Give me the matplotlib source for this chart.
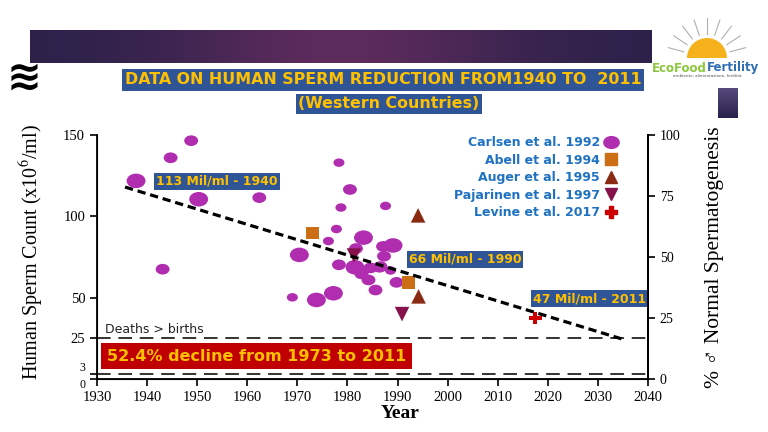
import numpy as np
import matplotlib.pyplot as plt
import matplotlib.transforms as mtransforms
from matplotlib.path import Path
from matplotlib.lines import Line2D
from matplotlib.patches import Wedge

plt.rcParams['mathtext.fontset'] = 'stix'

# --- data ---
carlsen_year = [1937.8, 1948.8, 1944.7, 1950.3, 1962.4, 1943.1, 1978.3, 1980.5,
                1978.7, 1987.6, 1977.8, 1976.2, 1983.2, 1981.7, 1989.1, 1987.1,
                1987.3, 1970.4, 1978.3, 1981.5, 1982.8, 1984.2, 1986.4, 1988.6,
                1989.8, 1985.6, 1977.2, 1973.8, 1969.0, 1984.6, 1986.6, 1982.8]
carlsen_count = [121.8, 146.5, 136.0, 110.5, 111.5, 67.5, 133.0, 116.5,
                 105.4, 106.4, 92.2, 84.8, 86.9, 80.2, 82.1, 81.5,
                 75.5, 76.3, 70.2, 68.7, 64.6, 60.9, 68.7, 66.7,
                 59.4, 54.7, 52.7, 48.6, 50.2, 68.3, 69.1, 65.6]
# relative study size (1 small .. 3 large)
carlsen_n = [3, 2, 2, 3, 2, 2, 1, 2,
             1, 1, 1, 1, 3, 2, 3, 2,
             2, 3, 2, 3, 2, 2, 2, 1,
             2, 2, 3, 3, 1, 2, 2, 2]

abell_year = [1973.0, 1992.2]
abell_count = [89.7, 59.4]
auger_year = [1994.1, 1994.2]
auger_count = [100.6, 50.8]
pajarinen_year = [1981.3, 1990.9]
pajarinen_count = [75.9, 39.9]
levine_year = [2017.5]
levine_count = [37.5]

trend_year = [1935.6, 2034.9]
trend_count = [118.0, 24.5]

left_ticks = [0, 3, 25, 50, 100, 150]
right_ticks = [0, 25, 50, 75, 100]
x_ticks = list(range(1930, 2041, 10))

purple = '#b02db0'
orange = '#cc6e16'
brown = '#8a2a12'
maroon = '#85124a'
red = '#cc0000'
navy = '#2f5597'
gold = '#ffc000'
legblue = '#1f72c2'
serif = ['Liberation Serif', 'DejaVu Serif']

fig = plt.figure(figsize=(7.68, 4.32), dpi=100)

# banner with gradient
bax = fig.add_axes([30/768, 1 - 63/432, 622/768, 33/432])
grad = np.linspace(0, 1, 256)
bump = np.exp(-((grad - 0.5) / 0.28) ** 2)
c0 = np.array([0.17, 0.13, 0.29])
c1 = np.array([0.36, 0.17, 0.36])
rgb = c0[None, :] + (c1 - c0)[None, :] * bump[:, None]
bax.imshow(rgb[None, :, :], aspect='auto', extent=(0, 1, 0, 1))
bax.set_axis_off()

# small gradient block at right
rax = fig.add_axes([718/768, 1 - 118/432, 20/768, 30/432])
vg = np.linspace(0, 1, 64)
rgb2 = np.array([0.16, 0.13, 0.30])[None, :] + np.array([0.18, 0.16, 0.18])[None, :] * vg[:, None]
rax.imshow(rgb2[:, None, :], aspect='auto', extent=(0, 1, 0, 1), origin='lower')
rax.set_axis_off()

# logo
lax = fig.add_axes([655/768, 1 - 82/432, 105/768, 82/432])
lax.set_xlim(0, 105)
lax.set_ylim(0, 82)
lax.set_axis_off()
lax.add_patch(Wedge((52, 24), 20, 0, 180, fc='#f6b21c', ec='none'))
for ang in np.linspace(15, 165, 9):
    r0, r1 = 24, 40
    a = np.deg2rad(ang)
    lax.plot([52 + r0*np.cos(a), 52 + r1*np.cos(a)], [24 + r0*np.sin(a), 24 + r1*np.sin(a)],
             color='#b0b0b0', lw=0.8)
lax.text(52, 14, 'EcoFood', color='#8cc63f', fontsize=8.5, fontweight='bold',
         ha='right', va='center', family='DejaVu Sans')
lax.text(52, 14, 'Fertility', color='#2f6db5', fontsize=8.5, fontweight='bold',
         ha='left', va='center', family='DejaVu Sans')
lax.text(52, 6, 'ambiente, alimentazione, fertilità', color='#555555', fontsize=3,
         ha='center', va='center')

# left decoration
fig.text(24/768, 1 - 78/432, '≋', fontsize=30, fontweight='bold', color='black',
         ha='center', va='center', family='DejaVu Sans')

# title
fig.text(383/768, 1 - 80/432, 'DATA ON HUMAN SPERM REDUCTION FROM1940 TO  2011',
         fontsize=11.4, fontweight='bold', color=gold, ha='center', va='center',
         family='DejaVu Sans',
         bbox=dict(boxstyle='square,pad=0.2', fc=navy, ec='none'))
fig.text(389/768, 1 - 104/432, '(Western Countries)',
         fontsize=11.4, fontweight='bold', color=gold, ha='center', va='center',
         family='DejaVu Sans',
         bbox=dict(boxstyle='square,pad=0.15', fc=navy, ec='none'))

# main axes
ax = fig.add_axes([97/768, 53/432, 551/768, 244/432])
ax.set_xlim(1930, 2040)
ax.set_ylim(0, 150)
ax.spines['top'].set_visible(False)
for s in ['left', 'bottom', 'right']:
    ax.spines[s].set_linewidth(1.3)
ax.set_xticks(x_ticks)
ax.set_yticks(left_ticks)
ax.tick_params(labelsize=10.5, width=1.2, length=5)
for lab in ax.get_xticklabels() + ax.get_yticklabels():
    lab.set_family(serif)
ylabs = ax.get_yticklabels()
ylabs[0].set_verticalalignment('top')
ylabs[0].set_fontsize(8.5)
ylabs[1].set_verticalalignment('bottom')
ylabs[1].set_fontsize(8.5)

ax2 = ax.twinx()
ax2.set_ylim(0, 100)
ax2.set_yticks(right_ticks)
ax2.spines['top'].set_visible(False)
ax2.spines['right'].set_linewidth(1.3)
ax2.tick_params(labelsize=10, width=1.2, length=5)
for lab in ax2.get_yticklabels():
    lab.set_family(serif)

ax.axhline(25, color='#333333', lw=1.4, ls=(0, (7, 4)))
ax.axhline(3, color='#333333', lw=1.4, ls=(0, (7, 4)))

ellipse = Path.unit_circle().transformed(mtransforms.Affine2D().scale(1.3, 1.0))
size_map = {1: 63, 2: 100, 3: 185}
ax.scatter(carlsen_year, carlsen_count, s=[size_map[n] for n in carlsen_n],
           marker=ellipse, color=purple, edgecolors='none', zorder=3)
ax.scatter(abell_year, abell_count, s=80, marker='s', color=orange, edgecolors='none', zorder=3)
ax.scatter(auger_year, auger_count, s=110, marker='^', color=brown, edgecolors='none', zorder=3)
ax.scatter(pajarinen_year, pajarinen_count, s=110, marker='v', color=maroon, edgecolors='none', zorder=3)
ax.scatter(levine_year, levine_count, s=80, marker='P', color=red, edgecolors='none', zorder=3)

ax.plot(trend_year, trend_count, color='black', lw=2.3, ls=(0, (2.6, 1.5)), zorder=4)

box = dict(boxstyle='square,pad=0.15', fc=navy, ec='none')
lab_kw = dict(fontsize=9, color=gold, ha='left', va='center', family='DejaVu Sans',
              fontweight='bold', bbox=box, zorder=5)
ax.text(1941.8, 121.6, '113 Mil/ml - 1940', **lab_kw)
ax.text(1992.2, 73.5, '66 Mil/ml - 1990', **lab_kw)
ax.text(2017.1, 49.4, '47 Mil/ml - 2011', **lab_kw)

ax.text(1931.6, 30.5, 'Deaths > births', fontsize=9, color='#222222', ha='left',
        va='center', family='DejaVu Sans')
ax.text(1932.0, 14.0, '52.4% decline from 1973 to 2011', fontsize=11.5, color=gold,
        fontweight='bold', ha='left', va='center', family='DejaVu Sans', zorder=6,
        bbox=dict(boxstyle='square,pad=0.35', fc='#c00000', ec='none'))

handles = [
    Line2D([], [], ls='none', marker=ellipse, markersize=11, color=purple, label='Carlsen et al. 1992'),
    Line2D([], [], ls='none', marker='s', markersize=8, color=orange, label='Abell et al. 1994'),
    Line2D([], [], ls='none', marker='^', markersize=9, color=brown, label='Auger et al. 1995'),
    Line2D([], [], ls='none', marker='v', markersize=9, color=maroon, label='Pajarinen et al. 1997'),
    Line2D([], [], ls='none', marker='P', markersize=8, color=red, label='Levine et al. 2017'),
]
ax.legend(handles=handles, loc='upper right', bbox_to_anchor=(0.965, 1.04),
          markerfirst=False, frameon=False, labelcolor=legblue, handlelength=1.0,
          handletextpad=0.4, labelspacing=0.35,
          prop=dict(family='DejaVu Sans', weight='bold', size=9))

fig.text(32/768, 1 - 252/432, r'Human Sperm Count (x10$^{6}$/ml)', rotation=90,
         fontsize=14.5, family=serif, ha='center', va='center')
fig.text(714/768, 1 - 257/432, '% ♂ Normal Spermatogenesis', rotation=90,
         fontsize=15.5, family=serif, ha='center', va='center')
fig.text(400/768, 1 - 414/432, 'Year', fontsize=14, fontweight='bold', family=serif,
         ha='center', va='center')

fig.savefig('out.png', dpi=100)
